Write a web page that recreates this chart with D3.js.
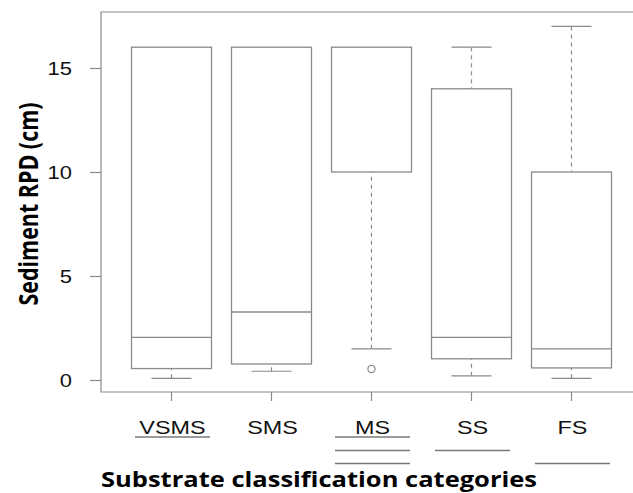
<!DOCTYPE html>
<html>
<head>
<meta charset="utf-8">
<script src="https://cdn.jsdelivr.net/npm/d3@7"></script>
<style>
  body { margin: 0; background: #fff; }
  svg { display: block; }
</style>
</head>
<body>
<div id="chart"></div>
<script>
// Box plot of sediment RPD per substrate class

const categories = ["VSMS", "SMS", "MS", "SS", "FS"];
const lowerWhisker = [0.08, 0.42, 1.5, 0.2, 0.08];
const q1 = [0.55, 0.77, 10, 1.02, 0.58];
const median = [2.05, 3.27, 16, 2.05, 1.5];
const q3 = [16, 16, 16, 14, 10];
const upperWhisker = [16, 16, 16, 16, 17];
const outliers = [[], [], [0.53], [], []];
// grouping lines drawn under the category names (row index per category)
const groupRows = [[0], [], [0, 1, 2], [1], [2]];
const yTicks = [0, 5, 10, 15];

const width = 633, height = 493;
const lineColor = "#8a8a8a";

const svg = d3.select("#chart")
    .append("svg")
    .attr("width", width)
    .attr("height", height);

const y = d3.scaleLinear().domain([0, 15]).range([380, 68]);
const x = d3.scaleBand().domain(categories).range([121.5, 621.5]);
const cx = d => x(d) + x.bandwidth() / 2;

const frame = { left: 101, top: 12, bottom: 392, right: 660 };

// frame (right side runs past the picture edge)
svg.append("path")
    .attr("d", `M${frame.right},${frame.top}H${frame.left}V${frame.bottom}H${frame.right}`)
    .attr("fill", "none")
    .attr("stroke", lineColor)
    .attr("stroke-width", 1.2);

// y axis
const yAxis = svg.append("g")
    .attr("transform", `translate(${frame.left},0)`)
    .call(d3.axisLeft(y).tickValues(yTicks).tickSize(11).tickFormat(d3.format("d")));
yAxis.select(".domain").remove();
yAxis.selectAll(".tick line").attr("stroke", lineColor).attr("stroke-width", 1.2);
yAxis.selectAll(".tick text")
    .attr("x", 0)
    .attr("dy", "0.36em")
    .attr("transform", "translate(-29,0) scale(1.22,1)")
    .attr("text-anchor", "end")
    .attr("fill", "#111")
    .style("font-family", "Arial, 'Liberation Sans', sans-serif")
    .style("font-size", "18px");

// x ticks
svg.append("g").selectAll("line")
    .data(categories)
    .join("line")
    .attr("x1", d => cx(d)).attr("x2", d => cx(d))
    .attr("y1", frame.bottom).attr("y2", frame.bottom + 9)
    .attr("stroke", lineColor)
    .attr("stroke-width", 1.2);

// x labels
svg.append("g").selectAll("text")
    .data(categories)
    .join("text")
    .attr("transform", d => `translate(${cx(d) + 1},434) scale(1.3,1)`)
    .attr("text-anchor", "middle")
    .attr("fill", "#111")
    .style("font-family", "Arial, 'Liberation Sans', sans-serif")
    .style("font-size", "18px")
    .text(d => d);

// grouping underlines
const rowY = [437, 450.5, 463.5];
const underlines = [];
categories.forEach((c, i) => groupRows[i].forEach(r => underlines.push({ c, r })));
svg.append("g").selectAll("line")
    .data(underlines)
    .join("line")
    .attr("x1", d => cx(d.c) - 36.5)
    .attr("x2", d => cx(d.c) + 38.5)
    .attr("y1", d => rowY[d.r]).attr("y2", d => rowY[d.r])
    .attr("stroke", "#7a7a7a")
    .attr("stroke-width", 1.6);

// boxes
const stats = categories.map((c, i) => ({
    c, lo: lowerWhisker[i], q1: q1[i], med: median[i], q3: q3[i], hi: upperWhisker[i], out: outliers[i]
}));
const boxW = 80, capW = 40;

const g = svg.append("g").selectAll("g")
    .data(stats)
    .join("g");

// whiskers (dashed), drawn from the caps toward the box
g.append("line")
    .attr("x1", d => cx(d.c)).attr("x2", d => cx(d.c))
    .attr("y1", d => y(d.lo)).attr("y2", d => y(d.q1))
    .attr("stroke", lineColor).attr("stroke-width", 1.2)
    .attr("stroke-dasharray", "4,4")
    .style("display", d => d.lo < d.q1 ? null : "none");
g.append("line")
    .attr("x1", d => cx(d.c)).attr("x2", d => cx(d.c))
    .attr("y1", d => y(d.hi)).attr("y2", d => y(d.q3))
    .attr("stroke", lineColor).attr("stroke-width", 1.2)
    .attr("stroke-dasharray", "4,4")
    .style("display", d => d.hi > d.q3 ? null : "none");

// caps (only where the whisker sticks out of the box)
g.filter(d => d.lo < d.q1).append("line")
    .attr("x1", d => cx(d.c) - capW / 2).attr("x2", d => cx(d.c) + capW / 2)
    .attr("y1", d => y(d.lo)).attr("y2", d => y(d.lo))
    .attr("stroke", lineColor).attr("stroke-width", 1.2);
g.filter(d => d.hi > d.q3).append("line")
    .attr("x1", d => cx(d.c) - capW / 2).attr("x2", d => cx(d.c) + capW / 2)
    .attr("y1", d => y(d.hi)).attr("y2", d => y(d.hi))
    .attr("stroke", lineColor).attr("stroke-width", 1.2);

g.append("rect")
    .attr("x", d => cx(d.c) - boxW / 2)
    .attr("width", boxW)
    .attr("y", d => y(d.q3))
    .attr("height", d => y(d.q1) - y(d.q3))
    .attr("fill", "none")
    .attr("stroke", lineColor)
    .attr("stroke-width", 1.3);

g.filter(d => d.med < d.q3).append("line")
    .attr("x1", d => cx(d.c) - boxW / 2).attr("x2", d => cx(d.c) + boxW / 2)
    .attr("y1", d => y(d.med)).attr("y2", d => y(d.med))
    .attr("stroke", lineColor).attr("stroke-width", 1.3);

g.selectAll("circle")
    .data(d => d.out.map(v => ({ c: d.c, v })))
    .join("circle")
    .attr("cx", d => cx(d.c))
    .attr("cy", d => y(d.v))
    .attr("r", 3.6)
    .attr("fill", "none")
    .attr("stroke", lineColor)
    .attr("stroke-width", 1.2);

// axis titles
svg.append("text")
    .attr("transform", "translate(38,204) rotate(-90)")
    .attr("text-anchor", "middle")
    .attr("textLength", 203)
    .attr("lengthAdjust", "spacingAndGlyphs")
    .attr("fill", "#000")
    .style("font-family", "'Open Sans', 'Noto Sans', sans-serif")
    .style("font-weight", "bold")
    .style("font-size", "27px")
    .text("Sediment RPD (cm)");

svg.append("text")
    .attr("x", 319)
    .attr("y", 486.5)
    .attr("text-anchor", "middle")
    .attr("textLength", 436)
    .attr("lengthAdjust", "spacingAndGlyphs")
    .attr("fill", "#000")
    .style("font-family", "'Open Sans', 'Noto Sans', sans-serif")
    .style("font-weight", "bold")
    .style("font-size", "22px")
    .text("Substrate classification categories");
</script>
</body>
</html>
